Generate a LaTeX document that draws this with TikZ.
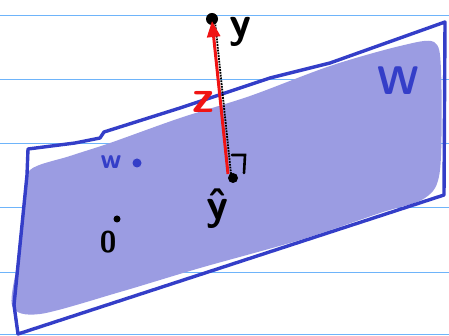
\documentclass[tikz,border=0pt]{standalone}
\usepackage{fontspec}
\usepackage{tikz}
\usetikzlibrary{arrows.meta}
\usetikzlibrary{positioning}
\definecolor{paperblue}{RGB}{110,180,250}
\definecolor{wblue}{RGB}{52,62,200}
\definecolor{wfill}{RGB}{155,156,226}
\definecolor{zred}{RGB}{240,20,20}
\newcommand{\handsize}[1]{\fontsize{#1}{#1}\selectfont\sffamily\bfseries}

\begin{document}
\begin{tikzpicture}[x=1pt,y=-1pt,
  paperline/.style={paperblue, line width=1pt},
  edge/.style={wblue, line width=3.4pt, line join=round, line cap=round},
  spot/.style={circle, fill=black, inner sep=0pt, minimum size=10pt},
  hand/.style={inner sep=0pt, anchor=base, font=\handsize{44}}]

  \useasboundingbox (0,0) rectangle (449,336);

  % lined paper
  \foreach \h in {16,80,144,208,272,334} {
    \draw[paperline] (0,\h) -- (449,\h);
  }

  % shaded plane
  \fill[wfill] plot[smooth cycle, tension=0.5] coordinates {
    (30,170) (70,156) (110,143) (180,118) (250,96) (330,66) (400,46)
    (434,42) (441,70) (440,170) (425,198) (380,213) (300,240) (200,268)
    (120,292) (40,314) (12,305) (20,250) (24,200)};

  % plane outline
  \draw[edge] (28,149) -- (75,143) -- (100,138) -- (104,132) -- (180,108)
    -- (270,78) -- (330,63) -- (445,22) -- (444,195) -- (18,334)
    -- (14,305) -- (27,175) -- cycle;

  % points
  \coordinate (y) at (212,21);
  \coordinate (yhat) at (228,174);
  \node[spot, minimum size=12pt] (ypt) at (212,19) {};
  \node[spot] (yhatpt) at (233,178) {};
  \node[spot, minimum size=7pt] (origin) at (117,219) {};
  \node[spot, fill=wblue, minimum size=9pt] (wpt) at (137,163) {};

  % projection
  \draw[black, densely dotted, line width=1.8pt] ([xshift=3pt]yhat) -- ([xshift=3pt]y);
  \draw[zred, line width=3pt, -{Triangle[length=16pt,width=13pt]}] (yhat) -- (y);
  \draw[black, line width=2.6pt, line cap=round] (232,155) -- (245,155) -- (244,173);

  % labels
  \node[hand] (ylab) at (240,38) {y};
  \node[hand, zred, font=\handsize{46}] (zlab) at (203,113) {z};
  \node[hand, wblue, font=\handsize{40}] (Wlab) at (398,95) {W};
  \node[hand, wblue, font=\handsize{28}] (wlab) at (111,169) {w};
  \node[hand, font=\handsize{30}] (olab) at (108,253) {0};
  \node[hand] (yhatlab) at (217,220) {\^{y}};

\end{tikzpicture}
\end{document}
